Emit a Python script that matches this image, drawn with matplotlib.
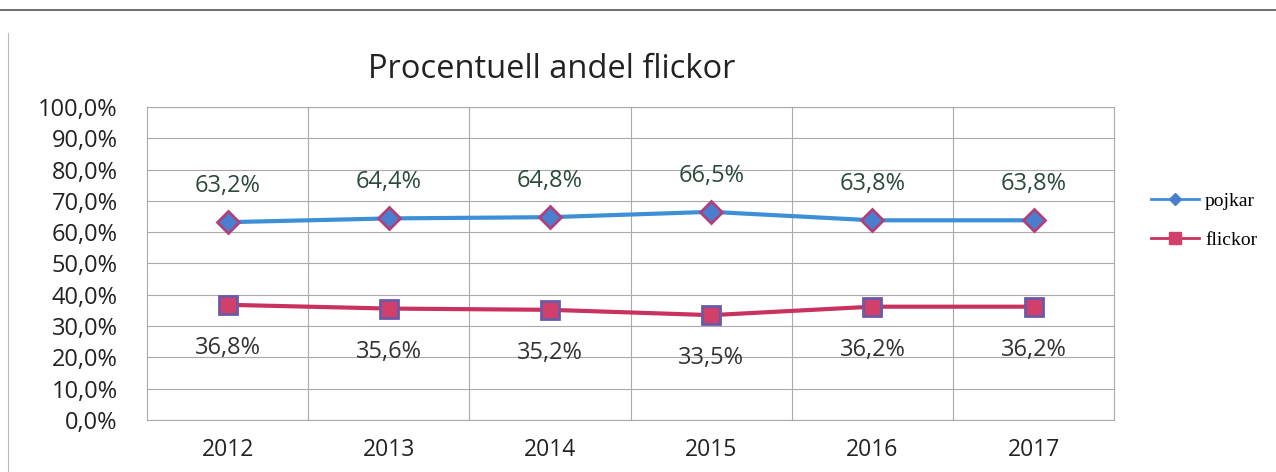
import matplotlib.pyplot as plt
from matplotlib.lines import Line2D

years = ['2012', '2013', '2014', '2015', '2016', '2017']
pojkar = [63.2, 64.4, 64.8, 66.5, 63.8, 63.8]
flickor = [36.8, 35.6, 35.2, 33.5, 36.2, 36.2]

plt.rcParams['font.family'] = ['Open Sans', 'DejaVu Sans']

fig = plt.figure(figsize=(12.76, 4.72), dpi=100)
ax = fig.add_axes([0.1152, 0.1102, 0.758, 0.6631])

x = range(len(years))
ax.plot(x, pojkar, color='#3d8fd6', lw=3, marker='D', ms=11,
        mfc='#4a7fd0', mec='#b0407a', mew=2, zorder=3)
ax.plot(x, flickor, color='#c8325e', lw=3, marker='s', ms=13,
        mfc='#d0406a', mec='#6a5aa8', mew=2, zorder=3)

for i in x:
    ax.annotate(f'{pojkar[i]:.1f}%'.replace('.', ','), (i, pojkar[i]),
                xytext=(0, 26), textcoords='offset points', ha='center', va='center',
                fontsize=17, color='#2c4a3a')
    ax.annotate(f'{flickor[i]:.1f}%'.replace('.', ','), (i, flickor[i]),
                xytext=(0, -31), textcoords='offset points', ha='center', va='center',
                fontsize=17, color='#333333')

ax.set_xlim(-0.5, 5.5)
ax.set_ylim(0, 100)
ax.set_yticks(range(0, 101, 10))
ax.set_yticklabels([f'{v},0%' for v in range(0, 101, 10)], fontsize=17,
                   fontweight='medium', color='#222222')
ax.set_xticks(list(x))
ax.set_xticklabels(years, fontsize=16.5, color='#222222')
ax.tick_params(axis='y', length=0, pad=21)
ax.tick_params(axis='x', length=0, pad=13)
ax.set_xticks([i + 0.5 for i in range(5)], minor=True)
ax.tick_params(which='minor', length=0)
ax.grid(axis='y', color='#aaaaaa', lw=0.8)
ax.grid(axis='x', which='minor', color='#aaaaaa', lw=0.8)
for s in ax.spines.values():
    s.set_color('#aaaaaa')
    s.set_linewidth(0.8)

fig.text(0.432, 0.852, 'Procentuell andel flickor', ha='center', va='center',
         fontsize=23.5, color='#222222')

handles = [
    Line2D([], [], color='#3d8fd6', lw=2, marker='D', ms=6, mfc='#4a7fd0', mec='#4a7fd0'),
    Line2D([], [], color='#c8325e', lw=2, marker='s', ms=8, mfc='#d0406a', mec='#d0406a'),
]
fig.legend(handles, ['pojkar', 'flickor'], loc='center left', bbox_to_anchor=(0.888, 0.532),
           frameon=False, handlelength=2.5, handletextpad=0.3, labelspacing=1.1,
           prop={'family': 'Liberation Serif', 'size': 14})

fig.add_artist(Line2D([0.0, 1.0], [0.978, 0.978], color='#555555', lw=1.2))
fig.add_artist(Line2D([0.006, 0.006], [0.0, 0.93], color='#bbbbbb', lw=0.8))

fig.savefig('out.png')
